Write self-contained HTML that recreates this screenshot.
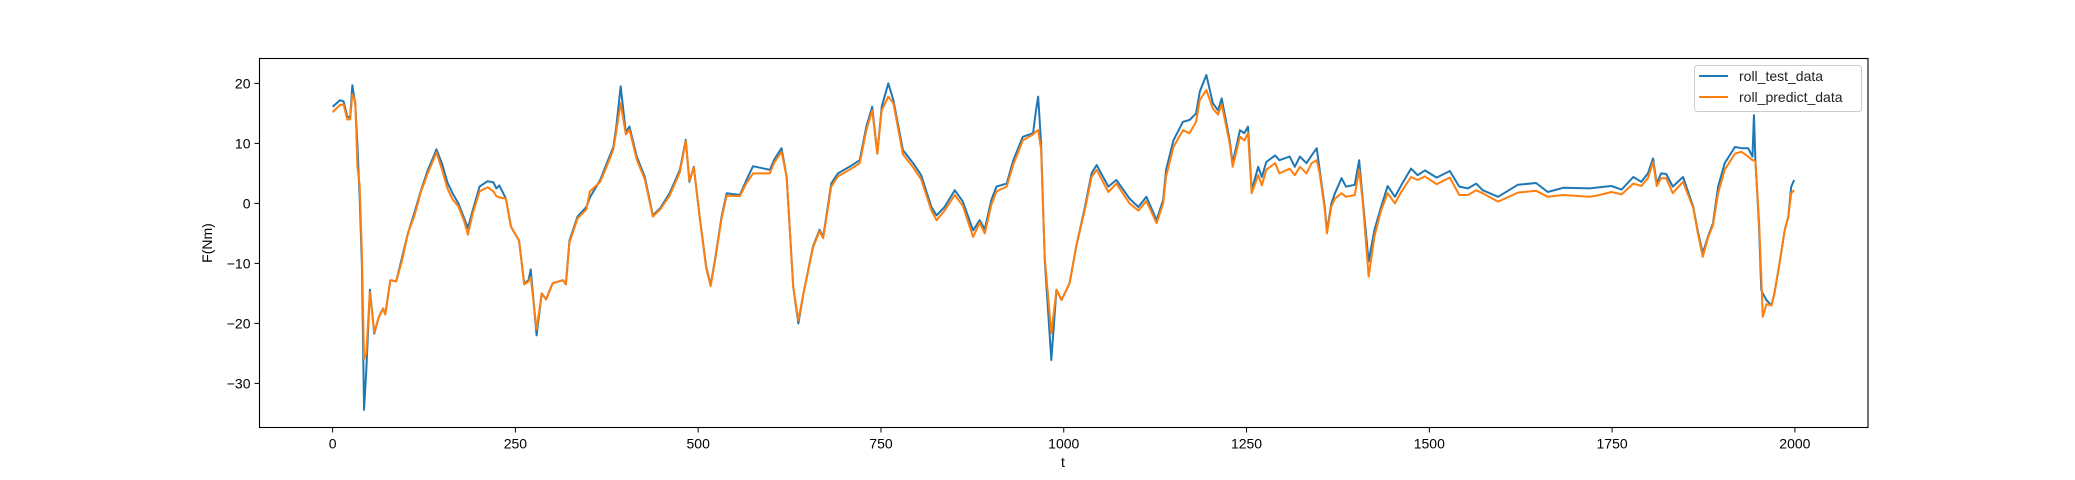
<!DOCTYPE html>
<html><head><meta charset="utf-8"><style>
html,body{margin:0;padding:0;background:#fff;}
svg{display:block;font-family:"Liberation Sans","DejaVu Sans",sans-serif;}
</style></head><body>
<svg id="chart" width="2075" height="480" viewBox="0 0 2075 480" xmlns="http://www.w3.org/2000/svg">
<rect x="0" y="0" width="2075" height="480" fill="#fff"/>
<g id="plot"></g>
<g id="axes"></g>
<text x="212" y="243" font-size="14" text-anchor="middle" transform="rotate(-90 212 243)">F(Nm)</text>
<text x="1063" y="467" font-size="14" text-anchor="middle">t</text>
<g>
<rect x="1694.5" y="65.5" width="167" height="46" rx="3" fill="#fff" fill-opacity="0.8" stroke="#ccc"/>
<line x1="1699" y1="76" x2="1728" y2="76" stroke="#1f77b4" stroke-width="2"/>
<text x="1739" y="81" font-size="14" fill="#222">roll_test_data</text>
<line x1="1699" y1="97" x2="1728" y2="97" stroke="#ff7f0e" stroke-width="2"/>
<text x="1739" y="102" font-size="14" fill="#222">roll_predict_data</text>
</g>
</svg>
<script>
const tValues=[0,10,15,20,24,27,31,34,37,40,43,46,51,57,63,69,72,79,87,95,103,112,121,130,137,142,150,157,164,172,180,185,192,201,212,220,224,228,237,244,255,262,268,271,279,286,292,301,315,319,324,335,347,352,366,375,384,388,394,401,406,416,427,438,448,461,475,483,488,494,502,511,517,523,532,539,557,566,575,598,604,614,621,630,637,644,657,666,671,682,691,707,721,730,738,745,751,760,767,780,794,805,819,826,837,851,862,876,885,892,901,908,922,931,944,958,962,965,969,974,983,990,997,1008,1017,1029,1038,1045,1061,1072,1090,1102,1113,1127,1136,1140,1150,1163,1172,1181,1186,1195,1204,1211,1216,1227,1231,1241,1247,1252,1257,1266,1271,1277,1289,1295,1309,1316,1323,1332,1339,1346,1350,1357,1360,1366,1371,1380,1386,1398,1404,1409,1417,1425,1434,1443,1453,1462,1475,1484,1494,1510,1528,1541,1553,1564,1573,1594,1621,1646,1662,1683,1719,1733,1749,1763,1779,1790,1799,1806,1811,1817,1824,1833,1847,1861,1867,1874,1881,1888,1895,1904,1918,1927,1936,1942,1944,1946,1948,1951,1954,1956,1961,1968,1972,1979,1986,1991,1995,1999];
const testValues=[16.1,17.2,17.0,14.5,14.3,19.7,16.5,9.5,1,-10,-34.4,-28,-14.4,-21.7,-19,-17.5,-18.5,-12.8,-13,-9,-5,-1.5,2.2,5.5,7.5,9,6.5,3.5,1.7,0,-2.5,-4.1,-1,2.8,3.7,3.5,2.5,3,0.8,-3.9,-6.2,-13.3,-12.8,-11,-22,-15,-16,-13.3,-12.8,-13.5,-6.2,-2.2,-0.6,1,3.9,6.7,9.4,12.8,19.5,11.9,12.8,7.8,4.4,-2,-0.8,1.7,5.6,10.6,3.6,6.1,-2.2,-10.6,-13.6,-9.4,-2.2,1.7,1.4,3.9,6.2,5.6,7.3,9.2,4.4,-13.9,-20,-15,-7.2,-4.4,-5.6,3.3,5,6.1,7.2,12.8,16.1,8.3,16.1,20,17.2,8.9,6.7,4.7,-0.6,-2,-0.6,2.2,0.3,-4.5,-2.8,-4.3,0.6,2.8,3.3,7.2,11.1,11.7,15.5,17.8,10,-9.4,-26.1,-14.4,-16.1,-13.3,-7.2,-0.6,5,6.4,2.8,3.9,0.8,-0.6,1.1,-2.8,0.6,5.6,10.5,13.6,13.9,15,18.6,21.4,16.7,15.5,17.5,10.5,6.7,12.2,11.7,12.8,2.2,6.1,4.4,6.9,8,7.2,7.8,6.1,7.8,6.7,8,9.2,5.6,-0.6,-4.7,0,1.7,4.2,2.8,3.1,7.2,0.6,-9.7,-4.4,-0.6,2.9,1.1,3.1,5.8,4.7,5.5,4.3,5.4,2.8,2.5,3.3,2.2,1.1,3.1,3.4,1.9,2.6,2.5,2.7,2.9,2.3,4.4,3.6,5,7.5,3.3,5,4.9,2.8,4.4,-0.6,-4.5,-8.3,-5.6,-3.3,2.8,6.7,9.4,9.2,9.2,7.8,14.7,7.2,2.8,-3.9,-14.4,-15,-16.1,-17,-15,-10,-4.5,-2.2,2.8,3.9];
const predictValues=[15.2,16.4,16.5,14.0,14.0,18.2,17.0,6,3,-8,-26,-25,-14.8,-21.5,-19,-17.5,-18.5,-12.8,-13,-9.5,-5,-2,2,5,7,8.5,5.5,2.5,0.7,-0.5,-3,-5.2,-1.5,2,2.7,2,1.2,1,0.8,-3.9,-6.2,-13.5,-13,-12.3,-21,-15,-16,-13.3,-12.8,-13.5,-6.5,-2.5,-1,2,3.6,6.2,9,12,16.7,11.5,12.3,7.3,4,-2.2,-1,1.3,5.2,10.4,3.8,6.0,-2.2,-10.8,-13.8,-9.6,-2.5,1.3,1.2,3.4,5,5,6.8,8.6,4.4,-13.9,-19.5,-15,-7.4,-4.6,-5.8,2.8,4.5,5.6,6.7,12.2,15.5,8.3,15.5,17.8,16.7,8.2,6,4,-1.2,-2.8,-1.2,1.4,-0.4,-5.6,-3.2,-5,-0.2,2,2.8,6.5,10.5,11.5,12,12.2,9,-9,-21.7,-14.4,-16.1,-13.3,-7.2,-1,4.4,5.6,1.9,3.3,0,-1.2,0.4,-3.3,0,4.5,9.4,12.2,11.7,13.6,17.2,18.9,15.8,14.8,16.5,10,6.1,11.1,10.5,11.7,1.7,4.7,3,5.6,6.7,5,5.8,4.7,6.1,5,6.7,7.2,5,-1,-5,-0.5,0.8,1.7,1.1,1.4,5.6,0.2,-12.2,-5.5,-1.2,1.7,0,2,4.4,3.9,4.5,3.2,4.3,1.4,1.4,2.2,1.7,0.3,1.8,2.1,1.1,1.4,1.1,1.4,1.9,1.5,3.3,2.9,4.2,6.9,2.9,4.2,4.2,1.7,3.6,-0.8,-4.8,-8.9,-5.8,-3.6,1.7,5.6,8.3,8.6,7.8,7.2,7.2,7,3,-3,-12,-18.9,-16.8,-17,-15,-10,-4.5,-2.2,1.7,2.2];
const xTicks=[0,250,500,750,1000,1250,1500,1750,2000];
const yTicks=[-30,-20,-10,0,10,20];

const L=259.5,R=1868,T=58.5,B=427.5;
const xMin=-100,xMax=2100,yMin=-37.35,yMax=24.15;
function xs(v){return L+(v-xMin)/(xMax-xMin)*(R-L);}
function ys(v){return B-(v-yMin)/(yMax-yMin)*(B-T);}
const NS="http://www.w3.org/2000/svg";
const plot=document.getElementById('plot');
const axes=document.getElementById('axes');
function mk(tag,attrs,parent){const e=document.createElementNS(NS,tag);for(const k in attrs)e.setAttribute(k,attrs[k]);parent.appendChild(e);return e;}

function drawSeries(vals,color,name){
  const d=tValues.map((t,i)=>(i?'L':'M')+xs(t).toFixed(2)+' '+ys(vals[i]).toFixed(2)).join(' ');
  const p=mk('path',{d:d,fill:'none',stroke:color,'stroke-width':2,'stroke-linejoin':'round'},plot);
  
  
}
drawSeries(testValues,'#1f77b4','roll-test-data-line');
drawSeries(predictValues,'#ff7f0e','roll-predict-data-line');

const frame=mk('rect',{x:L,y:T,width:R-L,height:B-T,fill:'none',stroke:'#000','stroke-width':1.1},axes);



xTicks.forEach(v=>{
  const x=xs(v);
  const tk=mk('line',{x1:x,y1:B,x2:x,y2:B+5,stroke:'#000','stroke-width':1},axes);
  
  
  const tx=mk('text',{x:x,y:B+21,'font-size':14,'text-anchor':'middle',fill:'#000'},axes);
  tx.textContent=String(v);
  
  
});
yTicks.forEach(v=>{
  const y=ys(v);
  const tk=mk('line',{x1:L-5,y1:y,x2:L,y2:y,stroke:'#000','stroke-width':1},axes);
  
  
  const tx=mk('text',{x:L-9,y:y+5,'font-size':14,'text-anchor':'end',fill:'#000'},axes);
  tx.textContent=(v<0?'\u2212'+Math.abs(v):String(v));
  
  
});
</script>
</body></html>
